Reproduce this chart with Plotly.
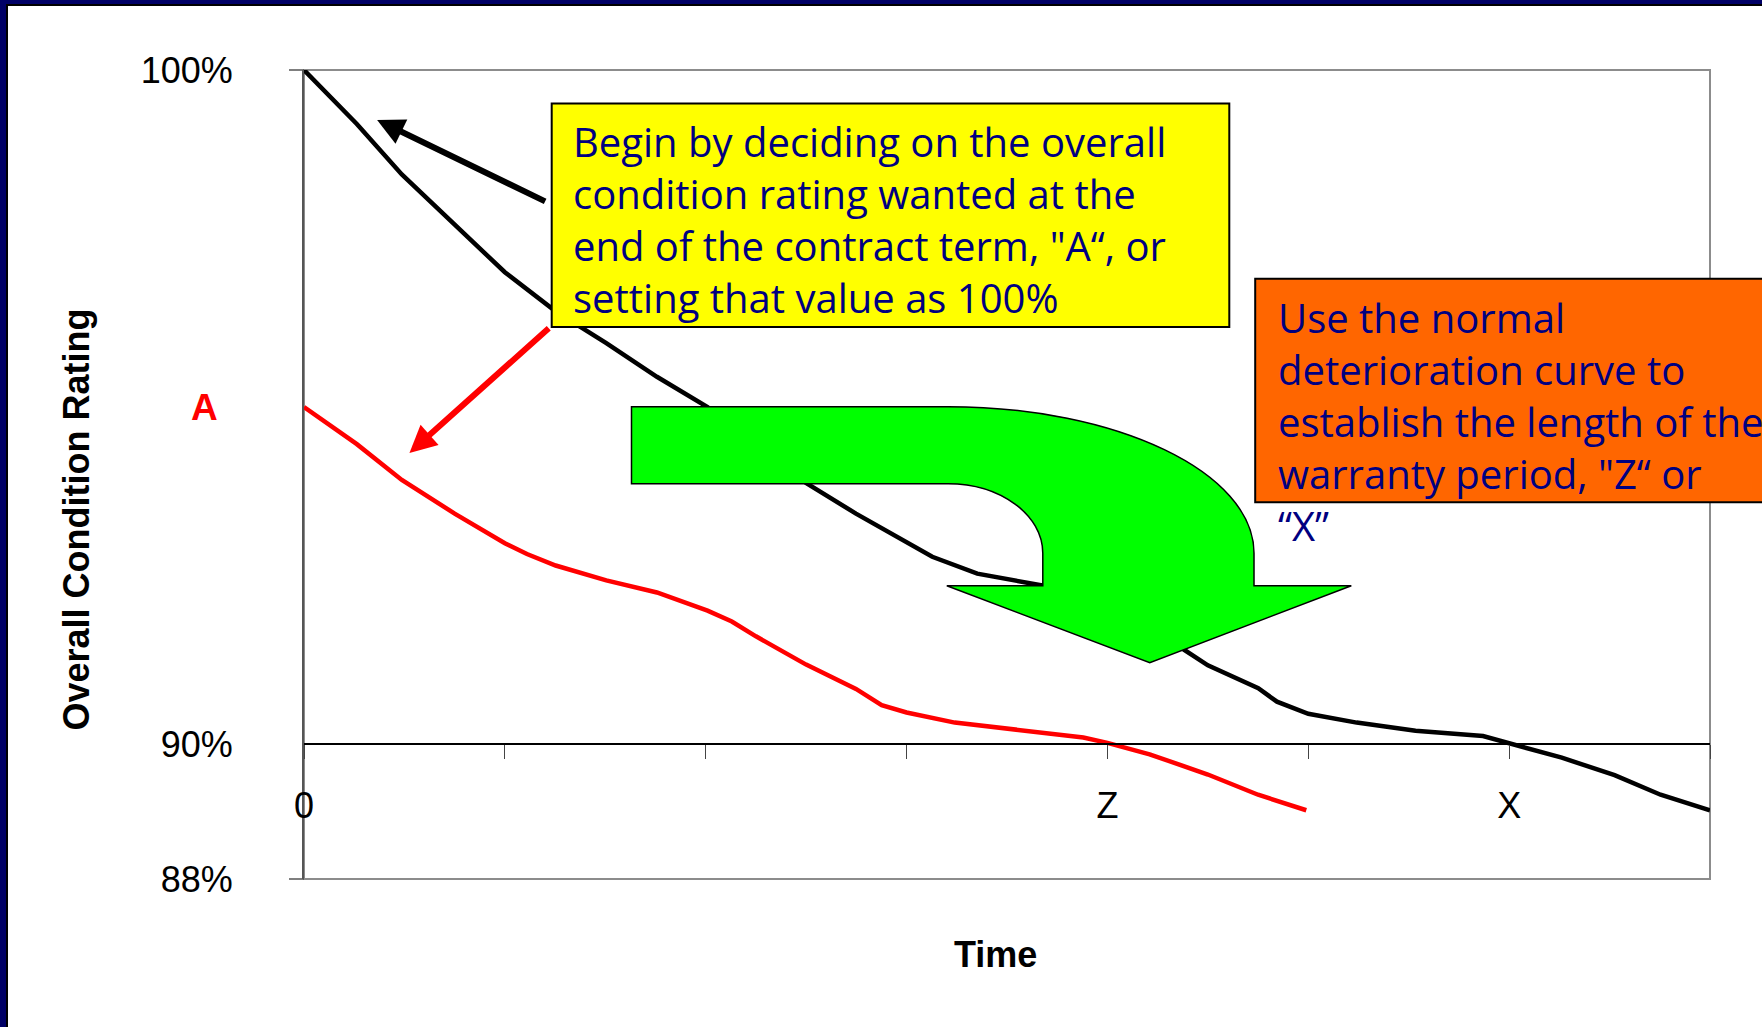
import plotly.graph_objects as go

# ---------------- data ----------------
time_normal = [0, 0.263, 0.487, 0.75, 1.0, 1.253, 1.505, 1.757, 2.009, 2.25, 2.501, 2.748,
               3.0, 3.128, 3.352, 3.682, 4.0, 4.382, 4.5, 4.751, 4.844, 5.0, 5.241, 5.534,
               5.87, 6.0, 6.262, 6.525, 6.754, 7.0]
rating_normal = [100, 99.2, 98.45, 97.7, 97.0, 96.42, 95.95, 95.45, 95.0, 94.43, 93.87, 93.42,
                 93.0, 92.78, 92.53, 92.35, 91.9, 91.4, 91.17, 90.83, 90.63, 90.45, 90.32, 90.2,
                 90.12, 90.01, 89.8, 89.54, 89.25, 89.02]

time_target = [0, 0.263, 0.487, 0.75, 1.0, 1.11, 1.253, 1.505, 1.757, 2.009, 2.13, 2.25, 2.5,
               2.748, 2.876, 3.0, 3.24, 3.5, 3.88, 4.0, 4.21, 4.5, 4.75, 4.99]
rating_target = [95.0, 94.45, 93.92, 93.42, 92.98, 92.82, 92.65, 92.43, 92.25, 91.98, 91.82, 91.6,
                 91.18, 90.82, 90.58, 90.47, 90.32, 90.23, 90.1, 90.02, 89.85, 89.55, 89.25, 89.02]

y_tick_vals = [88, 90, 100]
y_tick_text = ["88%", "90%", "100%"]
x_tick_vals = [0, 1, 2, 3, 4, 5, 6, 7]
x_tick_text = ["0", "", "", "", "Z", "", "X", ""]
target_label = "A"
target_value = 95

# ---------------- layout helpers ----------------
W, H = 1762, 1027
L, R, T, B = 304, 52, 70, 148
PW = W - L - R
PH = H - T - B
Y0, Y1 = 88, 100


def px(x):
    return (x - L) / PW


def py(y):
    return (H - B - y) / PH


NAVY_TEXT = "#000080"
ARIAL = "Liberation Sans, Arial, sans-serif"
TAHOMA = "Open Sans, DejaVu Sans, sans-serif"

fig = go.Figure()
fig.add_trace(go.Scatter(x=time_normal, y=rating_normal, mode="lines",
                         line=dict(color="black", width=4.5), hoverinfo="skip", showlegend=False))
fig.add_trace(go.Scatter(x=time_target, y=rating_target, mode="lines",
                         line=dict(color="#FF0000", width=4.5), hoverinfo="skip", showlegend=False))

shapes = []
# plot frame
shapes.append(dict(type="rect", xref="paper", yref="paper", x0=0, y0=0, x1=1, y1=1,
                   line=dict(color="#8c8c8c", width=2), layer="below"))
# y tick marks at 88 and 100
for v in (Y0, Y1):
    yy = (v - Y0) / (Y1 - Y0)
    shapes.append(dict(type="line", xref="paper", yref="paper", x0=-15 / PW, x1=0, y0=yy, y1=yy,
                       line=dict(color="#555555", width=1.5)))


def rect_px(x0, y0, x1, y1, fill, line_color=None, lw=0, layer="above"):
    d = dict(type="rect", xref="paper", yref="paper", x0=px(x0), x1=px(x1), y0=py(y1), y1=py(y0),
             fillcolor=fill, layer=layer)
    d["line"] = dict(color=line_color, width=lw) if line_color else dict(width=0)
    return d


# yellow and orange boxes
shapes.append(rect_px(551.7, 103.4, 1229.3, 327, "#FFFF00", "black", 2))
shapes.append(rect_px(1255.2, 278.7, 1800, 502.3, "#FF6600", "black", 2))

# green bent arrow
k = 0.5523
cx, cy = 948, 553.3
ro_x, ro_y = 306, 146.6
ri_x, ri_y = 94.8, 69.6
pts = [
    ("M", [(631.5, cy - ro_y)]),
    ("L", [(cx, cy - ro_y)]),
    ("C", [(cx + ro_x * k, cy - ro_y), (cx + ro_x, cy - ro_y * k), (cx + ro_x, cy)]),
    ("L", [(cx + ro_x, 585.7)]),
    ("L", [(1351.3, 585.7)]),
    ("L", [(1149.8, 662.7)]),
    ("L", [(946.8, 585.7)]),
    ("L", [(cx + ri_x, 585.7)]),
    ("L", [(cx + ri_x, cy)]),
    ("C", [(cx + ri_x, cy - ri_y * k), (cx + ri_x * k, cy - ri_y), (cx, cy - ri_y)]),
    ("L", [(631.5, cy - ri_y)]),
]
path = ""
for cmd, plist in pts:
    path += cmd + " " + " ".join(f"{px(a):.5f},{py(b):.5f}" for a, b in plist) + " "
path += "Z"
shapes.append(dict(type="path", xref="paper", yref="paper", path=path, fillcolor="#00FF00",
                   line=dict(color="black", width=1.5), layer="above"))

# outer navy frame
shapes.append(rect_px(0, 0, 6, H, "#000066"))
shapes.append(rect_px(0, 0, W, 4, "#000066"))
shapes.append(rect_px(6, 4, 8, H, "black"))
shapes.append(rect_px(6, 4, W, 6, "black"))

annotations = [
    # black arrow
    dict(x=0.364, y=99.26, ax=1.208, ay=98.04, xref="x", yref="y", axref="x", ayref="y",
         text="", showarrow=True, arrowhead=2, arrowsize=0.9, arrowwidth=6, arrowcolor="black",
         standoff=0, startstandoff=0),
    # red arrow
    dict(x=0.525, y=94.32, ax=1.226, ay=96.19, xref="x", yref="y", axref="x", ayref="y",
         text="", showarrow=True, arrowhead=2, arrowsize=0.9, arrowwidth=6, arrowcolor="#FF0000",
         standoff=0, startstandoff=0),
    # yellow box text
    dict(x=px(571), y=py(219), xref="paper", yref="paper", xanchor="left", yanchor="middle",
         align="left", showarrow=False, font=dict(family=TAHOMA, size=40, color=NAVY_TEXT),
         text="Begin by deciding on the overall<br>condition rating wanted at the<br>"
              "end of the contract term, \"A\u201c, or<br>setting that value as 100%"),
    # orange box text
    dict(x=px(1276), y=py(421), xref="paper", yref="paper", xanchor="left", yanchor="middle",
         align="left", showarrow=False, font=dict(family=TAHOMA, size=40, color=NAVY_TEXT),
         text="Use the normal<br>deterioration curve to<br>establish the length of the<br>"
              "warranty period, \"Z\u201c or<br>\u201cX\u201d"),
    # axis titles
    dict(x=px(995.6), y=py(954), xref="paper", yref="paper", xanchor="center", yanchor="middle",
         showarrow=False, text="<b>Time</b>", font=dict(family=ARIAL, size=36, color="black")),
    dict(x=px(76), y=py(519.5), xref="paper", yref="paper", xanchor="center", yanchor="middle",
         showarrow=False, textangle=-90,
         text="<b>Overall Condition Rating</b>", font=dict(family=ARIAL, size=36, color="black")),
    # target label
    dict(x=px(204), y=target_value, xref="paper", yref="y", xanchor="center", yanchor="middle",
         showarrow=False, text=f"<b>{target_label}</b>",
         font=dict(family=ARIAL, size=37, color="#FF0000")),
]

fig.update_layout(
    width=W, height=H,
    margin=dict(l=L, r=R, t=T, b=B, pad=0),
    paper_bgcolor="white", plot_bgcolor="white",
    showlegend=False,
    shapes=shapes,
    annotations=annotations,
    xaxis=dict(range=[0, 7], tickvals=x_tick_vals, ticktext=x_tick_text, showgrid=False,
               zeroline=False, anchor="free", position=(90 - Y0) / (Y1 - Y0),
               showline=True, linecolor="black", linewidth=1.5, ticks="outside", ticklen=14,
               tickcolor="#444444", tickwidth=1, ticklabelstandoff=16,
               tickfont=dict(family=ARIAL, size=36, color="black")),
    yaxis=dict(range=[Y0, Y1], tickvals=y_tick_vals, ticktext=y_tick_text, showgrid=False,
               zeroline=False, showline=True, linecolor="#555555", linewidth=2, ticks="",
               ticklabelstandoff=62, tickfont=dict(family=ARIAL, size=36, color="black")),
)

fig.write_html("out.html", config={"displayModeBar": False},
               post_script="document.body.style.margin='0';document.body.style.overflow='hidden';")
